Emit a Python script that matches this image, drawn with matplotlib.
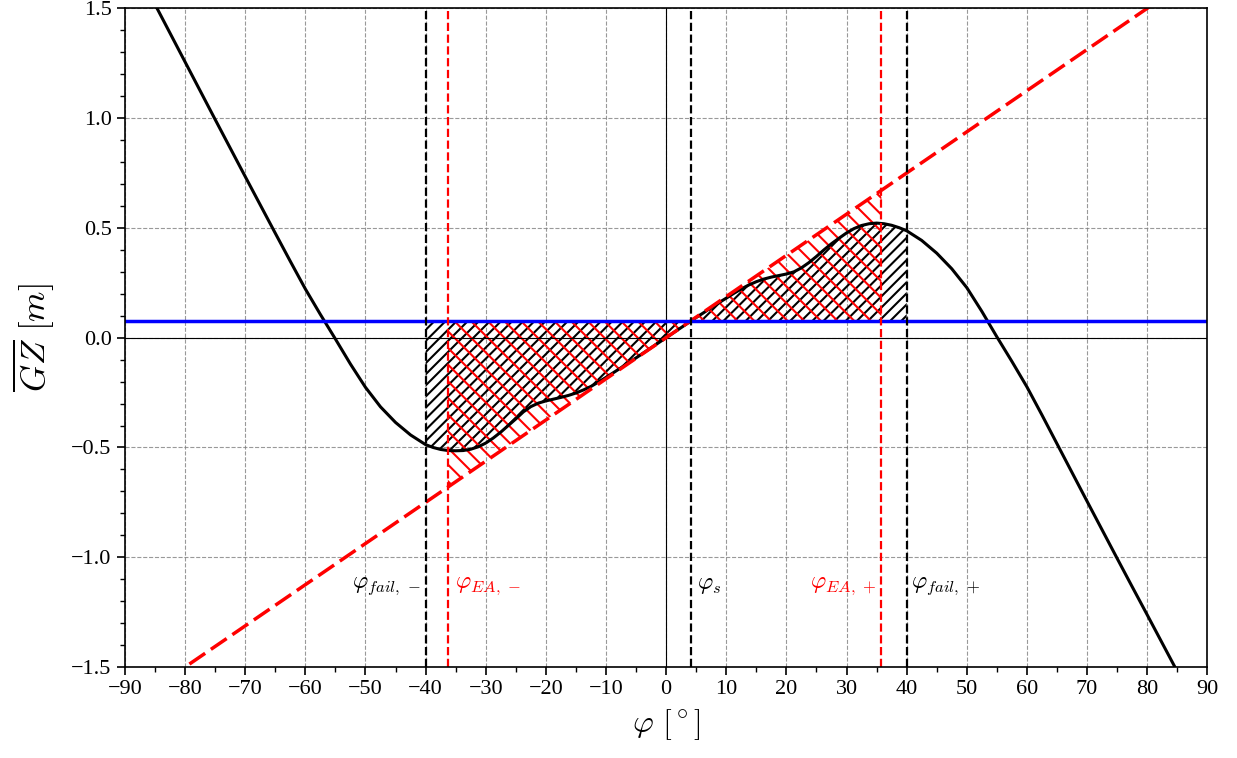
import numpy as np
import matplotlib
matplotlib.use("Agg")
import matplotlib.pyplot as plt
from matplotlib.ticker import MultipleLocator

# GZ curve
phi = np.array([-85, -82.5, -80, -77.5, -75, -72.5, -70, -67.5, -65, -62.5, -60,
                -57.5, -55, -52.5, -50, -47.5, -45, -42.5,
                -40, -38.75, -37.5, -36.25, -35, -33.75, -32.5, -31.25, -30,
                -28.75, -27.5, -26.25, -25, -23.75, -22.5, -21.25, -20,
                -18.75, -17.5, -16.25, -15, -13.75, -12.5, -11.25, -10,
                -8.75, -7.5, -6.25, -5, -3.75, -2.5, -1.25, 0,
                1.25, 2.5, 3.75, 5, 6.25, 7.5, 8.75, 10, 11.25, 12.5, 13.75,
                15, 16.25, 17.5, 18.75, 20, 21.25, 22.5, 23.75, 25, 26.25,
                27.5, 28.75, 30, 31.25, 32.5, 33.75, 35, 36.25, 37.5, 38.75, 40,
                42.5, 45, 47.5, 50, 52.5, 55, 57.5, 60, 62.5, 65, 67.5, 70,
                72.5, 75, 77.5, 80, 82.5, 85])
gz = np.array([1.518, 1.387, 1.256, 1.125, 0.994, 0.864, 0.734, 0.605, 0.476, 0.348, 0.222,
               0.106, -0.006, -0.12, -0.226, -0.315, -0.386, -0.443,
               -0.487, -0.5, -0.509, -0.514, -0.515, -0.514, -0.508, -0.497, -0.48,
               -0.457, -0.43, -0.4, -0.37, -0.338, -0.314, -0.298, -0.288,
               -0.28, -0.272, -0.263, -0.252, -0.238, -0.222, -0.202, -0.181,
               -0.159, -0.137, -0.114, -0.092, -0.069, -0.046, -0.023, 0.0,
               0.023, 0.046, 0.069, 0.092, 0.114, 0.137, 0.159, 0.18, 0.202, 0.222, 0.24,
               0.255, 0.267, 0.276, 0.283, 0.29, 0.3, 0.318, 0.342, 0.37, 0.4,
               0.428, 0.453, 0.477, 0.497, 0.511, 0.519, 0.522, 0.519, 0.512, 0.501, 0.487,
               0.443, 0.385, 0.314, 0.228, 0.12, 0.004, -0.108, -0.224, -0.352, -0.483, -0.614, -0.745,
               -0.875, -1.005, -1.134, -1.262, -1.391, -1.52])

# heeling arm (red dashed line) and constant heeling lever (blue)
line_phi = np.array([-90, 90])
line_gz = np.array([-1.6875, 1.6875])
gz_const = 0.077

# characteristic angles
phi_fail_m, phi_ea_m, phi_s, phi_ea_p, phi_fail_p = -40.0, -36.3, 4.1, 35.8, 40.0

plt.rcParams['font.family'] = ['Liberation Serif', 'DejaVu Serif']
plt.rcParams['mathtext.fontset'] = 'cm'
plt.rcParams['hatch.linewidth'] = 1.5
plt.rcParams['axes.unicode_minus'] = True

fig, ax = plt.subplots(figsize=(12.37, 7.58), dpi=100)
fig.subplots_adjust(left=0.101, right=0.976, top=0.989, bottom=0.12)

ax.grid(True, which='major', color='grey', linestyle='--', linewidth=0.8, alpha=0.8)
ax.set_axisbelow(True)
ax.axhline(0, color='k', lw=0.8)
ax.axvline(0, color='k', lw=0.8)

# black hatch: between GZ curve and blue line
m = (phi >= phi_fail_m) & (phi <= phi_fail_p)
ax.fill_between(phi[m], gz[m], gz_const, facecolor='none', edgecolor='k',
                hatch='///', linewidth=0, interpolate=True)

# red hatch: between heeling line and blue line
x_ea = np.array([phi_ea_m, phi_s, phi_ea_p])
ax.fill_between(x_ea, np.interp(x_ea, line_phi, line_gz), gz_const,
                facecolor='none', edgecolor='red', hatch='\\\\', linewidth=0)

ax.plot(phi, gz, color='k', lw=2.2)
ax.plot(line_phi, line_gz, color='red', lw=2.5, ls='--', dashes=(5.5, 2))
ax.axhline(gz_const, color='blue', lw=2.5)

for xv, c in [(phi_fail_m, 'k'), (phi_ea_m, 'red'), (phi_s, 'k'),
              (phi_ea_p, 'red'), (phi_fail_p, 'k')]:
    ax.axvline(xv, color=c, ls='--', lw=1.6)

ty = -1.13
fs = 17
ax.text(phi_fail_m - 0.7, ty, r'$\varphi_{fail,\,-}$', ha='right', va='center', fontsize=fs)
ax.text(phi_ea_m + 1.2, ty, r'$\varphi_{EA,\,-}$', ha='left', va='center', fontsize=fs, color='red')
ax.text(phi_s + 1.1, ty, r'$\varphi_{s}$', ha='left', va='center', fontsize=fs)
ax.text(phi_ea_p - 0.8, ty, r'$\varphi_{EA,\,+}$', ha='right', va='center', fontsize=fs, color='red')
ax.text(phi_fail_p + 0.7, ty, r'$\varphi_{fail,\,+}$', ha='left', va='center', fontsize=fs)

ax.set_xlim(-90, 90)
ax.set_ylim(-1.5, 1.5)
ax.xaxis.set_major_locator(MultipleLocator(10))
ax.xaxis.set_minor_locator(MultipleLocator(5))
ax.yaxis.set_major_locator(MultipleLocator(0.5))
ax.yaxis.set_minor_locator(MultipleLocator(0.1))
ax.tick_params(which='major', direction='out', length=6, width=1.2, labelsize=16)
ax.tick_params(which='minor', direction='out', length=3.5, width=1)
for sp in ax.spines.values():
    sp.set_linewidth(1.2)

ax.set_xlabel(r'$\varphi\ [^\circ]$', fontsize=23, labelpad=6)
ax.set_ylabel(r'$\overline{GZ}\ [m]$', fontsize=25, labelpad=10)

fig.savefig('out.png', dpi=100)
